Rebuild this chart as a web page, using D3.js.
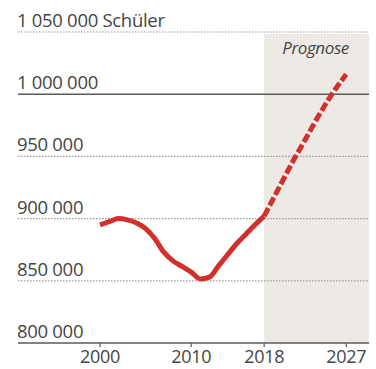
<!DOCTYPE html>
<html lang="de">
<head>
<meta charset="UTF-8" />
<title>Schüler</title>
<script src="https://cdn.jsdelivr.net/npm/d3@7"></script>
<style>
  body { margin: 0; background: #fff; }
  text { font-family: "Open Sans", sans-serif; fill: #454545; }
</style>
</head>
<body>
<script>
    let w = 376;
    let h = 369;

    // Werte (Schüler)
    let years = [2000, 2001, 2002, 2003, 2004, 2005, 2006, 2007, 2008, 2009, 2010, 2011, 2012, 2013, 2014, 2015, 2016, 2017, 2018];
    let values = [895000, 897500, 900000, 899000, 896500, 892000, 884000, 873000, 866000, 861500, 857000, 851500, 853000, 862000, 871000, 880000, 887500, 895000, 902000];
    let forecastYears = [2018, 2019, 2020, 2021, 2022, 2023, 2024, 2025, 2026, 2027];
    let forecastValues = [902000, 916000, 930000, 944000, 957000, 970000, 983000, 995000, 1006000, 1016000];
    let gridValues = [800000, 850000, 900000, 950000, 1000000, 1050000];
    let gridLabels = ["800 000", "850 000", "900 000", "950 000", "1 000 000", "1 050 000 Schüler"];
    let tickYears = [2000, 2010, 2018, 2027];

    let svg = d3.select("body").append("svg")
        .attr("width", w)
        .attr("height", h);

    let x = d3.scaleLinear().domain([1991, 2029.5]).range([18, 369]);
    let y = d3.scaleLinear().domain([800000, 1050000]).range([343, 32]);

    // Prognose-Bereich
    svg.append("rect")
        .attr("x", x(2018))
        .attr("y", y(1050000) + 2)
        .attr("width", x(2029.5) - x(2018))
        .attr("height", y(800000) - y(1050000) - 2)
        .attr("fill", "#edeae5");

    svg.append("text")
        .attr("x", (x(2018) + x(2029.5)) / 2 - 1)
        .attr("y", 54)
        .attr("text-anchor", "middle")
        .attr("font-style", "italic")
        .attr("font-size", 17)
        .attr("letter-spacing", -0.4)
        .text("Prognose");

    // Gitterlinien
    gridValues.forEach((v, i) => {
        let solid = v === 1000000 || v === 800000;
        svg.append("line")
            .attr("x1", 18).attr("x2", 369)
            .attr("y1", y(v)).attr("y2", y(v))
            .attr("stroke", solid ? "#5a5a5a" : "#9a9a9a")
            .attr("stroke-width", solid ? 1.6 : 1.2)
            .attr("stroke-dasharray", solid ? null : "1.5,1.5");
        svg.append("text")
            .attr("x", 17)
            .attr("y", y(v) - 5)
            .attr("font-size", 18.5)
            .attr("letter-spacing", -0.3)
            .text(gridLabels[i]);
    });

    // x-Achse
    let xAxis = svg.append("g").attr("transform", `translate(0,${y(800000)})`);
    tickYears.forEach(t => {
        xAxis.append("line")
            .attr("x1", x(t)).attr("x2", x(t))
            .attr("y1", 0).attr("y2", 4)
            .attr("stroke", "#5a5a5a").attr("stroke-width", 1.2);
        xAxis.append("text")
            .attr("x", x(t))
            .attr("y", 20)
            .attr("text-anchor", "middle")
            .attr("font-size", 18)
            .attr("letter-spacing", -0.3)
            .text(t);
    });

    let line = d3.line()
        .x(d => x(d[0]))
        .y(d => y(d[1]))
        .curve(d3.curveMonotoneX);

    svg.append("path")
        .attr("d", line(d3.zip(years, values)))
        .attr("fill", "none")
        .attr("stroke", "#d2302c")
        .attr("stroke-width", 5)
        .attr("stroke-linejoin", "round");

    svg.append("path")
        .attr("d", line(d3.zip(forecastYears, forecastValues)))
        .attr("fill", "none")
        .attr("stroke", "#d2302c")
        .attr("stroke-width", 5)
        .attr("stroke-dasharray", "9,3");
</script>
</body>
</html>
